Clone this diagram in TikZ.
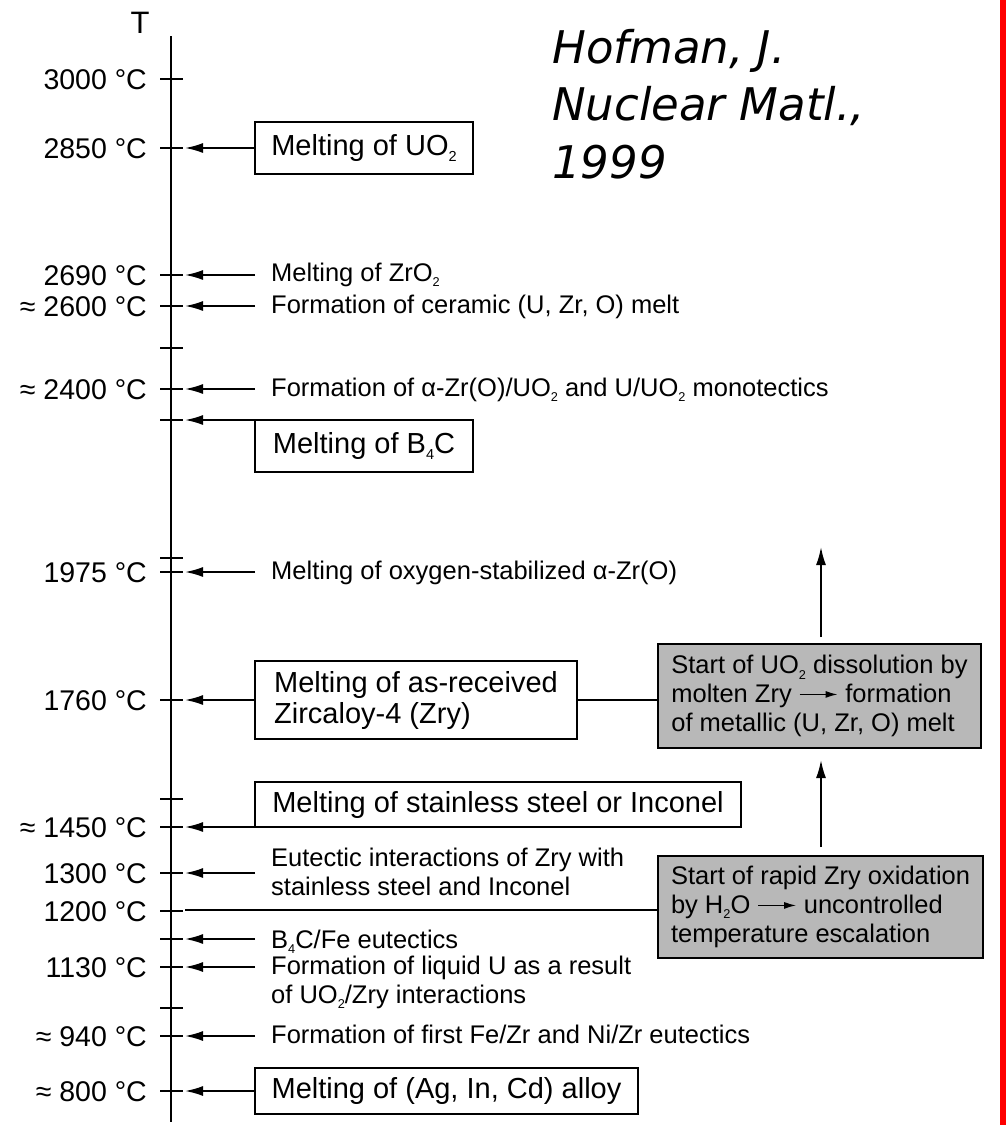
\documentclass[tikz,border=0pt]{standalone}
\usepackage{fontspec}
\setmainfont{Liberation Sans}
\newfontfamily\citefont{DejaVu Sans}
\usetikzlibrary{arrows.meta}

% small lowered index, as in chemical formulas
\newcommand{\ix}[1]{\raisebox{-0.2em}{\scalebox{0.5}{#1}}}
% small inline arrow used inside the shaded boxes
\newcommand{\inarrow}{\tikz[baseline=-0.32em]\draw[line width=1.3pt,-{Latex[length=12pt,width=7pt]}] (0pt,0pt) -- (38pt,0pt);}

\begin{document}
\begin{tikzpicture}[x=1pt,y=-1pt,
  axislbl/.style={anchor=base east,inner sep=0pt,font=\fontsize{28.5}{32}\selectfont},
  evt/.style={anchor=base west,inner xsep=16pt,inner ysep=0pt,align=left,font=\fontsize{25.5}{28.5}\selectfont},
  melt/.style={draw,line width=1.4pt,outer sep=0pt,anchor=north west,inner xsep=15pt,inner ysep=0pt,align=left,font=\fontsize{29}{31}\selectfont},
  shaded/.style={draw,line width=2.4pt,outer sep=0pt,fill=black!28,anchor=north west,inner xsep=13pt,inner ysep=0pt,align=left,font=\fontsize{25.5}{28.7}\selectfont},
  arr/.style={line width=1.8pt,-{Latex[length=18pt,width=10pt]}},
  link/.style={line width=1.8pt},
  tick/.style={line width=1.6pt}]

% canvas and red edge bar
\useasboundingbox (0,0) rectangle (1006,1125);
\fill[white] (0,0) rectangle (1006,1125);
\fill[red] (1000,0) rectangle (1006,1125);

% temperature axis
\coordinate (axtop) at (171,36);
\coordinate (axbot) at (171,1122);
\draw[line width=1.8pt] (axtop) -- (axbot);
\node[inner sep=0pt,anchor=base,font=\fontsize{31}{34}\selectfont] (T) at (140,33) {T};

% tick marks
\foreach \y in {79,148,275,306,348,389,420,558,572,700,799,827,873,911,939,967,1008,1036,1091}
  \draw[tick] (160,\y) -- (183,\y);

% axis labels
\node[axislbl] (l3000) at (147,89.5) {3000 °C};
\node[axislbl] (l2850) at (147,158.5) {2850 °C};
\node[axislbl] (l2690) at (147,285.5) {2690 °C};
\node[axislbl] (l2600) at (147,316.5) {≈ 2600 °C};
\node[axislbl] (l2400) at (147,399.5) {≈ 2400 °C};
\node[axislbl] (l1975) at (147,582.5) {1975 °C};
\node[axislbl] (l1760) at (147,710.5) {1760 °C};
\node[axislbl] (l1450) at (147,837.5) {≈ 1450 °C};
\node[axislbl] (l1300) at (147,883.5) {1300 °C};
\node[axislbl] (l1200) at (147,921.5) {1200 °C};
\node[axislbl] (l1130) at (147,977.5) {1130 °C};
\node[axislbl] (l940) at (147,1046.5) {≈ 940 °C};
\node[axislbl] (l800) at (147,1101.5) {≈ 800 °C};

% arrow tips on the axis
\coordinate (a2850) at (185,148);
\coordinate (a2690) at (185,275);
\coordinate (a2600) at (185,306);
\coordinate (a2400) at (185,389);
\coordinate (aB4C) at (185,420);
\coordinate (a1975) at (185,572);
\coordinate (a1760) at (185,700);
\coordinate (a1450) at (185,827);
\coordinate (a1300) at (185,873);
\coordinate (a1200) at (185,910);
\coordinate (aFe) at (185,939);
\coordinate (a1130) at (185,967);
\coordinate (a940) at (185,1036);
\coordinate (a800) at (185,1091);

% boxed melting events
\node[melt,minimum width=218pt,minimum height=52pt] (uo2) at (255,122) {Melting of UO\ix{2}};
\node[melt,minimum width=218pt,minimum height=52pt] (b4c) at (255,420) {Melting of B\ix{4}C};
\node[melt,minimum width=322pt,minimum height=78pt] (zry) at (255,661) {Melting of as-received\\Zircaloy-4 (Zry)};
\node[melt,minimum width=486pt,minimum height=45pt] (ss) at (255,782) {Melting of stainless steel or Inconel};
\node[melt,minimum width=383pt,minimum height=46pt] (ag) at (255,1068) {Melting of (Ag, In, Cd) alloy};

% plain events
\node[evt] (zro2) at (255,281) {Melting of ZrO\ix{2}};
\node[evt] (ceram) at (255,313) {Formation of ceramic (U, Zr, O) melt};
\node[evt] (mono) at (255,396) {Formation of α-Zr(O)/UO\ix{2} and U/UO\ix{2} monotectics};
\node[evt] (ozr) at (255,579) {Melting of oxygen-stabilized α-Zr(O)};
\node[evt] (eut) at (255,895) {Eutectic interactions of Zry with\\stainless steel and Inconel};
\node[evt] (bfe) at (255,948) {B\ix{4}C/Fe eutectics};
\node[evt] (liqu) at (255,1003) {Formation of liquid U as a result\\of UO\ix{2}/Zry interactions};
\node[evt] (fezr) at (255,1043) {Formation of first Fe/Zr and Ni/Zr eutectics};

% shaded process boxes
\node[shaded,minimum width=323pt,minimum height=104pt] (g1) at (658,644) {Start of UO\ix{2} dissolution by\\molten Zry \inarrow{} formation\\of metallic (U, Zr, O) melt};
\node[shaded,minimum width=324pt,minimum height=102pt] (g2) at (658,856) {Start of rapid Zry oxidation\\by H\ix{2}O \inarrow{} uncontrolled\\temperature escalation};
\coordinate (up) at (821,547);

% arrows into the axis
\draw[arr] (uo2.west) -- (a2850);
\draw[arr] (a2690 -| zro2.west) -- (a2690);
\draw[arr] (a2600 -| ceram.west) -- (a2600);
\draw[arr] (a2400 -| mono.west) -- (a2400);
\draw[arr] (b4c.north west) -- (aB4C);
\draw[arr] (a1975 -| ozr.west) -- (a1975);
\draw[arr] (zry.west) -- (a1760);
\draw[arr] (ss.south west) -- (a1450);
\draw[arr] (a1300 -| eut.west) -- (a1300);
\draw[arr] (aFe -| bfe.west) -- (aFe);
\draw[arr] (a1130 -| liqu.west) -- (a1130);
\draw[arr] (a940 -| fezr.west) -- (a940);
\draw[arr] (ag.west) -- (a800);

% links to the shaded boxes
\draw[link] (zry.east) -- (zry.east -| g1.west);
\draw[link] (a1200) -- (a1200 -| g2.west);
\draw[arr,shorten <=9pt] (g2.north -| up) -- ([yshift=-12pt]g1.south -| up);
\draw[arr,shorten <=7pt] (g1.north -| up) -- (up);

% reference note
\node[anchor=base west,inner sep=0pt,align=left,font=\citefont\itshape\fontsize{45}{57.5}\selectfont] (cite) at (552,178) {Hofman, J.\\Nuclear Matl.,\\1999};

\end{tikzpicture}
\end{document}
